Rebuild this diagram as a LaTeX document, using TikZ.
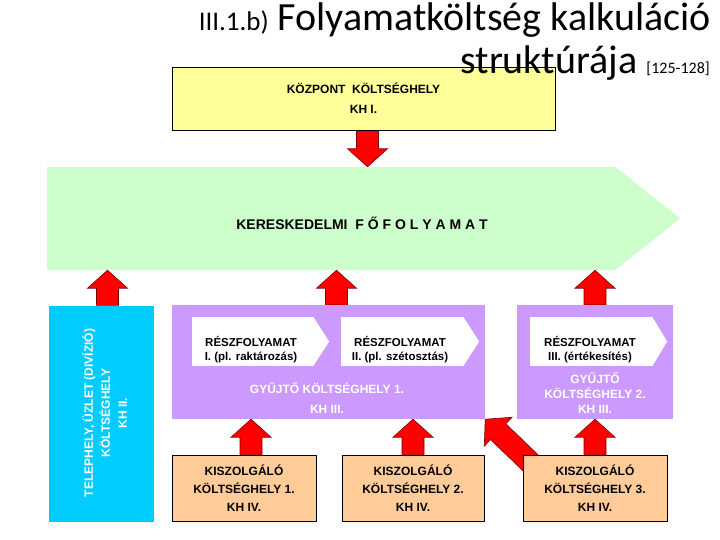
\documentclass[tikz,border=0pt]{standalone}
\usepackage{fontspec}
\setmainfont{Liberation Sans}
\newfontfamily\calibrifont{Carlito}
\usetikzlibrary{positioning, calc, backgrounds}
\definecolor{cYellow}{HTML}{FFFF99}
\definecolor{cGreen}{HTML}{CCFFCC}
\definecolor{cCyan}{HTML}{00CCFF}
\definecolor{cLilac}{HTML}{CC99FF}
\definecolor{cPeach}{HTML}{FFCC99}
\definecolor{cArrow}{HTML}{FF0000}
\definecolor{cArrowEdge}{HTML}{7F0000}

% red block arrow from #1 to #2
\newcommand{\redarrow}[2]{%
  \coordinate (ra-s) at (#1);
  \coordinate (ra-e) at (#2);
  \coordinate (ra-h) at ($(ra-e)!18pt!(ra-s)$);
  \draw[blockarrow] ($(ra-s)!11pt!90:(ra-e)$) -- ($(ra-h)!11pt!90:(ra-e)$)
    -- ($(ra-h)!20pt!90:(ra-e)$) -- (ra-e) -- ($(ra-h)!20pt!-90:(ra-e)$)
    -- ($(ra-h)!11pt!-90:(ra-e)$) -- ($(ra-s)!11pt!-90:(ra-e)$) -- cycle;}

\begin{document}
\begin{tikzpicture}[
  x=1pt, y=-1pt,
  costbox/.style={draw=black, line width=0.8pt, inner sep=0pt, align=center,
    font=\fontsize{12}{18}\selectfont\bfseries},
  flatbox/.style={inner sep=0pt},
  lbl/.style={inner sep=0pt, align=center, font=\fontsize{12}{#1}\selectfont\bfseries},
  blockarrow/.style={fill=cArrow, draw=cArrowEdge, line width=0.6pt, line join=miter}
]
  \useasboundingbox (0,0) rectangle (720,540);

  % central cost centre
  \node[costbox, fill=cYellow, minimum width=383pt, minimum height=63pt,
    font=\fontsize{12}{20}\selectfont\bfseries] (kh1) at (363.5,98.5) {KÖZPONT\ \ KÖLTSÉGHELY\\KH I.};

  % title
  \node[anchor=base east, inner sep=0pt, font=\calibrifont\fontsize{40}{40}\selectfont] (title1) at (711,31)
    {{\fontsize{27}{27}\selectfont III.1.b)} Folyamatköltség kalkuláció};
  \node[anchor=base east, inner sep=0pt, font=\calibrifont\fontsize{40}{40}\selectfont] (title2) at (710,74)
    {struktúrája {\fontsize{16}{16}\selectfont [125-128]}};

  % main process
  \node[flatbox, fill=cGreen, minimum width=568pt, minimum height=103pt] (main) at (331,218.5) {};
  \fill[cGreen] (main.north east) -- ([xshift=65pt]main.east) -- (main.south east) -- cycle;
  \node[lbl=14, font=\fontsize{14}{16}\selectfont\bfseries] (fofoly) at (362,223) {KERESKEDELMI\ \ F Ő F O L Y A M A T};

  % site / division
  \node[flatbox, fill=cCyan, minimum width=105pt, minimum height=216pt] (telep) at (101.5,413.5) {};
  \node[lbl=17, text=white, rotate=90] (telepLbl) at (104.5,413) {TELEPHELY, ÜZLET (DIVÍZIÓ)\\KÖLTSÉGHELY\\KH II.};

  % collecting cost centres
  \node[flatbox, fill=cLilac, minimum width=313pt, minimum height=114pt] (gyujto1) at (328.5,362) {};
  \node[flatbox, fill=cLilac, minimum width=156pt, minimum height=114pt] (gyujto2) at (595,362) {};

  \node[flatbox, fill=white, minimum width=121pt, minimum height=49pt] (resz1) at (252.5,341.5) {};
  \fill[white] (resz1.north east) -- ([xshift=16pt]resz1.east) -- (resz1.south east) -- cycle;
  \node[lbl=14, font=\fontsize{11.5}{14}\selectfont\bfseries] (resz1Lbl) at (251,350) {RÉSZFOLYAMAT\\I. (pl. raktározás)};

  \node[flatbox, fill=white, minimum width=122pt, minimum height=49pt] (resz2) at (402,341.5) {};
  \fill[white] (resz2.north east) -- ([xshift=16pt]resz2.east) -- (resz2.south east) -- cycle;
  \node[lbl=14, font=\fontsize{11.5}{14}\selectfont\bfseries] (resz2Lbl) at (400,350) {RÉSZFOLYAMAT\\II. (pl. szétosztás)};

  \node[flatbox, fill=white, minimum width=122pt, minimum height=49pt] (resz3) at (591,341.5) {};
  \fill[white] (resz3.north east) -- ([xshift=15pt]resz3.east) -- (resz3.south east) -- cycle;
  \node[lbl=14, font=\fontsize{11.5}{14}\selectfont\bfseries] (resz3Lbl) at (590,350) {RÉSZFOLYAMAT\\III. (értékesítés)};

  \node[lbl=20, text=white] (gyujto1Lbl) at (327,398) {GYŰJTŐ KÖLTSÉGHELY 1.\\KH III.};
  \node[lbl=15, text=white] (gyujto2Lbl) at (595,393) {GYŰJTŐ\\KÖLTSÉGHELY 2.\\KH III.};

  % service cost centres
  \node[costbox, fill=cPeach, minimum width=144pt, minimum height=66pt] (kisz1) at (244,488) {KISZOLGÁLÓ\\KÖLTSÉGHELY 1.\\KH IV.};
  \node[costbox, fill=cPeach, minimum width=142pt, minimum height=66pt] (kisz2) at (413,488) {KISZOLGÁLÓ\\KÖLTSÉGHELY 2.\\KH IV.};
  \node[costbox, fill=cPeach, minimum width=144pt, minimum height=66pt] (kisz3) at (595,488) {KISZOLGÁLÓ\\KÖLTSÉGHELY 3.\\KH IV.};

  % arrows
  \begin{pgfonlayer}{background}
    \redarrow{[xshift=4pt]kh1.south}{ra-s |- main.north}
    \redarrow{[xshift=6pt]telep.north}{ra-s |- main.south}
    \redarrow{[xshift=8pt]gyujto1.north}{ra-s |- main.south}
    \redarrow{gyujto2.north}{ra-s |- main.south}
    \redarrow{[xshift=7pt]kisz1.north}{ra-s |- gyujto1.south}
    \redarrow{kisz2.north}{ra-s |- gyujto1.south}
    \redarrow{kisz3.north}{ra-s |- gyujto2.south}
    \redarrow{$(kisz3.north west)+(16,16)$}{gyujto1.south east}
  \end{pgfonlayer}
\end{tikzpicture}
\end{document}
